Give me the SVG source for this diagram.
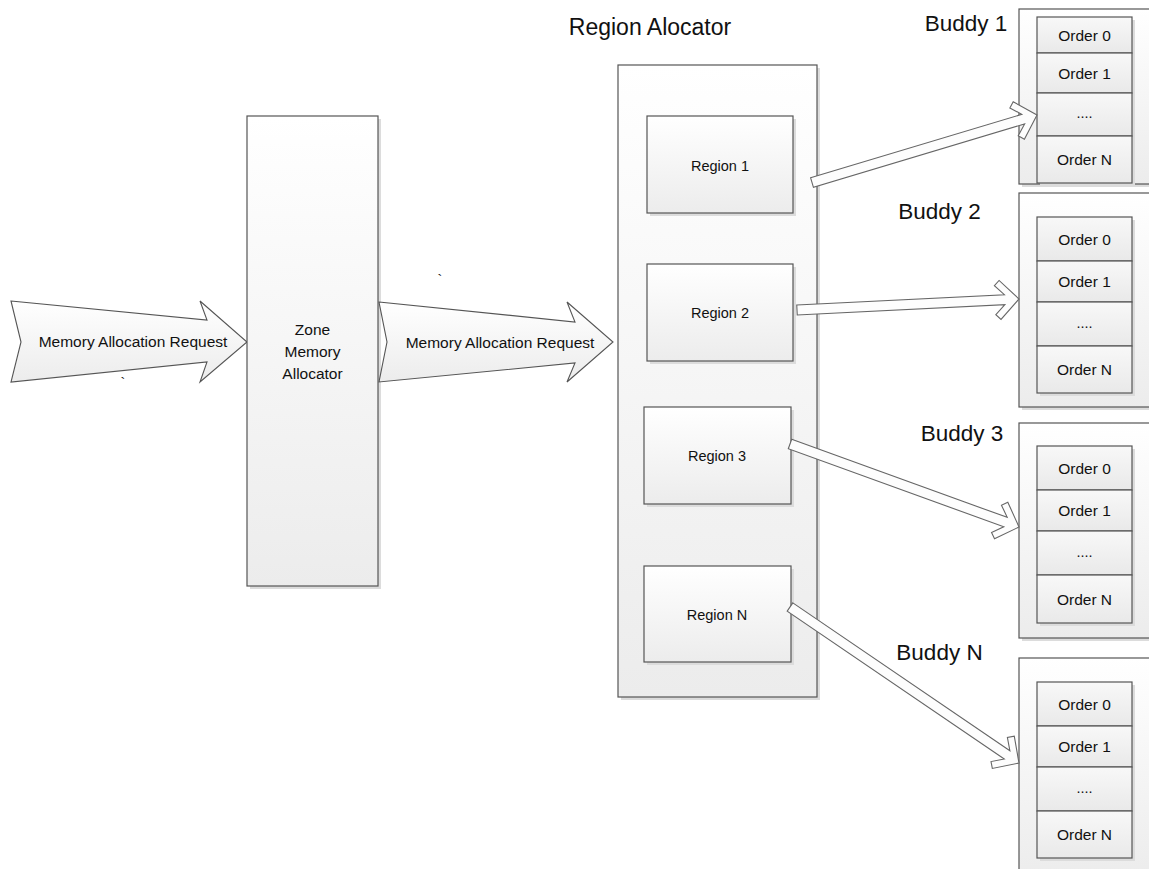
<svg xmlns="http://www.w3.org/2000/svg" width="1149" height="869" viewBox="0 0 1149 869">
<defs>
<linearGradient id="g" x1="0" y1="0" x2="0" y2="1">
<stop offset="0" stop-color="#ffffff"/>
<stop offset="1" stop-color="#ececec"/>
</linearGradient>
<linearGradient id="gc" x1="0" y1="0" x2="0" y2="1">
<stop offset="0" stop-color="#f8f8f8"/>
<stop offset="1" stop-color="#e9e9e9"/>
</linearGradient>
<style>
.box{fill:url(#g);stroke:#555;stroke-width:1.2}
.cell{fill:url(#gc);stroke:#555;stroke-width:1.2}
.sh{fill:#dcdcdc}
.t{font-family:"Liberation Sans",Arial,sans-serif;font-size:14.5px;fill:#111;text-anchor:middle}
.o{font-size:15.5px}
.m{font-size:15.5px}
.big{font-family:"Liberation Sans",Arial,sans-serif;font-size:22.5px;fill:#111;text-anchor:middle}
.arr{fill:#fdfdfd;stroke:#666;stroke-width:1.1;stroke-linejoin:miter}
.fat{fill:url(#g);stroke:#555;stroke-width:1.1}
</style>
</defs>
<rect width="1149" height="869" fill="#ffffff"/>

<g id="request-arrow-1">
<polygon class="fat" points="11,301 207,320 200,301 247,342 200,382 207,362 11,382 21,342"/>
<text class="t m" x="133" y="347">Memory Allocation Request</text>
</g>

<g id="zone-allocator">
<rect class="sh" x="250" y="119" width="131" height="470"/>
<rect class="box" x="247" y="116" width="131" height="470"/>
<text class="t m" x="312.5" y="335">Zone</text>
<text class="t m" x="312.5" y="357">Memory</text>
<text class="t m" x="312.5" y="379">Allocator</text>
</g>

<g id="request-arrow-2">
<polygon class="fat" points="379,302 575,322 567,302 613,342 567,382 575,363 379,382 387,342"/>
<text class="t m" x="500" y="348">Memory Allocation Request</text>
</g>

<g id="ticks">
<text class="t" x="123" y="388">`</text>
<text class="t" x="440" y="285">`</text>
</g>

<g id="region-allocator">
<text class="big" x="650" y="35" style="font-size:23px">Region Alocator</text>
<rect class="sh" x="621" y="68" width="199" height="632"/>
<rect class="box" x="618" y="65" width="199" height="632"/>
</g>

<g id="region-1">
<rect class="sh" x="650" y="119" width="146" height="97"/>
<rect class="box" x="647" y="116" width="146" height="97"/>
<text class="t" x="720" y="171">Region 1</text>
</g>
<g id="region-2">
<rect class="sh" x="650" y="267" width="146" height="97"/>
<rect class="box" x="647" y="264" width="146" height="97"/>
<text class="t" x="720" y="318">Region 2</text>
</g>
<g id="region-3">
<rect class="sh" x="647" y="410" width="147" height="97"/>
<rect class="box" x="644" y="407" width="147" height="97"/>
<text class="t" x="717" y="461">Region 3</text>
</g>
<g id="region-n">
<rect class="sh" x="647" y="569" width="147" height="96"/>
<rect class="box" x="644" y="566" width="147" height="96"/>
<text class="t" x="717" y="620">Region N</text>
</g>

<g id="buddy-1">
<text class="big" x="966" y="31">Buddy 1</text>
<rect class="sh" x="1022" y="12" width="140" height="175"/>
<rect class="box" x="1019" y="9" width="140" height="175"/>
<rect class="sh" x="1040" y="20" width="95" height="166"/>
<rect class="cell" x="1037" y="17" width="95" height="36"/>
<rect class="cell" x="1037" y="53" width="95" height="40"/>
<rect class="cell" x="1037" y="93" width="95" height="43"/>
<rect class="cell" x="1037" y="136" width="95" height="47"/>
<text class="t o" x="1084.5" y="40.5">Order 0</text>
<text class="t o" x="1084.5" y="78.5">Order 1</text>
<text class="t" x="1084.5" y="118">....</text>
<text class="t o" x="1084.5" y="165">Order N</text>
</g>

<g id="buddy-2">
<text class="big" x="939.5" y="219">Buddy 2</text>
<rect class="sh" x="1022" y="196" width="140" height="214"/>
<rect class="box" x="1019" y="193" width="140" height="214"/>
<rect class="sh" x="1040" y="220" width="95" height="176"/>
<rect class="cell" x="1037" y="217" width="95" height="44"/>
<rect class="cell" x="1037" y="261" width="95" height="41"/>
<rect class="cell" x="1037" y="302" width="95" height="44"/>
<rect class="cell" x="1037" y="346" width="95" height="47"/>
<text class="t o" x="1084.5" y="244.5">Order 0</text>
<text class="t o" x="1084.5" y="287">Order 1</text>
<text class="t" x="1084.5" y="328">....</text>
<text class="t o" x="1084.5" y="375">Order N</text>
</g>

<g id="buddy-3">
<text class="big" x="962" y="440.5">Buddy 3</text>
<rect class="sh" x="1022" y="426" width="140" height="215"/>
<rect class="box" x="1019" y="423" width="140" height="215"/>
<rect class="sh" x="1040" y="449" width="95" height="177"/>
<rect class="cell" x="1037" y="446" width="95" height="44"/>
<rect class="cell" x="1037" y="490" width="95" height="41"/>
<rect class="cell" x="1037" y="531" width="95" height="44"/>
<rect class="cell" x="1037" y="575" width="95" height="48"/>
<text class="t o" x="1084.5" y="473.5">Order 0</text>
<text class="t o" x="1084.5" y="516">Order 1</text>
<text class="t" x="1084.5" y="557">....</text>
<text class="t o" x="1084.5" y="604.5">Order N</text>
</g>

<g id="buddy-n">
<text class="big" x="939.5" y="660">Buddy N</text>
<rect class="sh" x="1022" y="661" width="140" height="220"/>
<rect class="box" x="1019" y="658" width="140" height="220"/>
<rect class="sh" x="1040" y="685" width="95" height="176"/>
<rect class="cell" x="1037" y="682" width="95" height="44"/>
<rect class="cell" x="1037" y="726" width="95" height="41"/>
<rect class="cell" x="1037" y="767" width="95" height="44"/>
<rect class="cell" x="1037" y="811" width="95" height="47"/>
<text class="t o" x="1084.5" y="709.5">Order 0</text>
<text class="t o" x="1084.5" y="752">Order 1</text>
<text class="t" x="1084.5" y="793">....</text>
<text class="t o" x="1084.5" y="840">Order N</text>
</g>

<g id="connectors">
<polygon class="arr" transform="translate(812,182.5) rotate(-16.70)" points="0,-5 220.5,-5 210.95,-14.55 215.9,-19.5 234.9,0 215.9,19.5 210.95,14.55 220.5,5 0,5"/>
<polygon class="arr" transform="translate(797,310) rotate(-2.84)" points="0,-5 207.9,-5 198.35,-14.55 203.3,-19.5 222.3,0 203.3,19.5 198.35,14.55 207.9,5 0,5"/>
<polygon class="arr" transform="translate(790,444) rotate(19.92)" points="0,-5 229.2,-5 219.65,-14.55 224.6,-19.5 243.6,0 224.6,19.5 219.65,14.55 229.2,5 0,5"/>
<polygon class="arr" transform="translate(790,607) rotate(34.27)" points="0,-5 262.7,-5 253.15,-14.55 258.1,-19.5 277.1,0 258.1,19.5 253.15,14.55 262.7,5 0,5"/>
</g>
</svg>
